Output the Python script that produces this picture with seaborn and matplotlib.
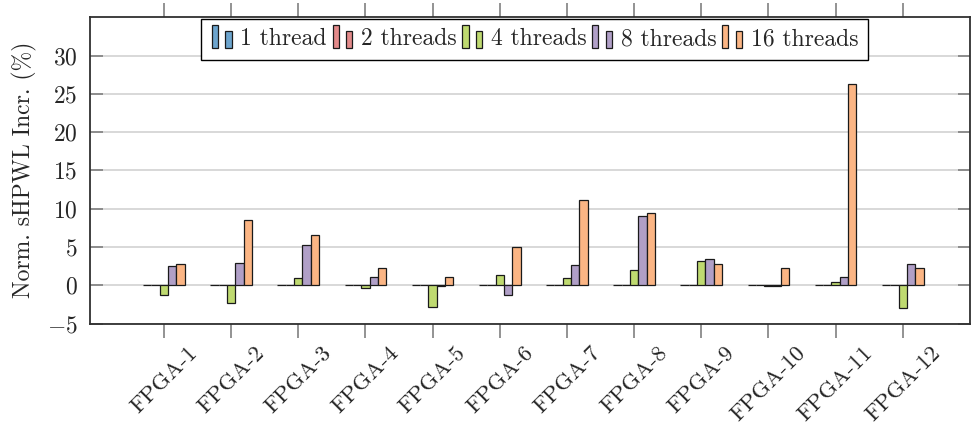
import matplotlib
matplotlib.use("Agg")
import matplotlib.pyplot as plt
import seaborn as sns
import pandas as pd
from matplotlib.legend_handler import HandlerBase
from matplotlib.patches import Rectangle

# ---- data ----
fpgas = [f"FPGA-{i}" for i in range(1, 13)]
threads = ["1 thread", "2 threads", "4 threads", "8 threads", "16 threads"]
t1 = [0, 0, 0, 0, 0, 0, 0, 0, 0, 0, 0, 0]
t2 = [0, 0, 0, 0, 0, 0, 0, 0, 0, 0, 0, 0]
t4 = [-1.3, -2.3, 0.9, -0.4, -2.8, 1.4, 1.0, 2.0, 3.2, -0.05, 0.45, -3.0]
t8 = [2.5, 2.9, 5.2, 1.05, -0.1, -1.25, 2.65, 9.1, 3.45, -0.1, 1.1, 2.8]
t16 = [2.75, 8.5, 6.5, 2.25, 1.1, 5.0, 11.1, 9.45, 2.8, 2.25, 26.3, 2.3]
colors = ["#6DA5CE", "#E38A8A", "#BFDA70", "#B09FC7", "#FBB584"]
yticks = [-5, 0, 5, 10, 15, 20, 25, 30]

rows = []
for name, vals in zip(threads, [t1, t2, t4, t8, t16]):
    for f, v in zip(fpgas, vals):
        rows.append({"fpga": f, "threads": name, "val": v})
df = pd.DataFrame(rows)

sns.set_style("ticks")
plt.rcParams["font.family"] = ["cmr10", "DejaVu Serif"]
plt.rcParams["mathtext.fontset"] = "cm"
plt.rcParams["axes.formatter.use_mathtext"] = True
plt.rcParams["axes.unicode_minus"] = True

FS = 17.0

fig = plt.figure(figsize=(9.72, 4.28), dpi=100)
ax = fig.add_axes([90 / 972, (428 - 323.5) / 428, 880 / 972, (323.5 - 16.5) / 428])

sns.barplot(data=df, x="fpga", y="val", hue="threads", order=fpgas,
            hue_order=threads, palette=dict(zip(threads, colors)),
            width=0.62, edgecolor="#1a1a1a", linewidth=0.9, errorbar=None,
            saturation=1, ax=ax, legend=False, zorder=3)

ax.set_xlim(-1.1, 12.0)
ax.set_ylim(-5, 35.1)
ax.set_yticks(yticks)
ax.yaxis.grid(True, color="#d8d8d8", linewidth=1.4, zorder=0)
ax.set_axisbelow(True)
ax.set_xlabel("")
ax.set_ylabel("Norm. sHPWL Incr. (%)", fontsize=FS, labelpad=7)

for s in ax.spines.values():
    s.set_visible(True)
    s.set_color("#303030")
    s.set_linewidth(1.3)

ax.tick_params(axis="y", direction="in", length=9, width=1.2, color="#808080",
               labelsize=FS, pad=9, right=True)
ax.tick_params(axis="x", direction="out", length=10, width=1.2, color="#808080",
               labelsize=16.5, pad=4, top=True)
plt.setp(ax.get_xticklabels(), rotation=45, ha="center", va="top")


class HandlerTwoBars(HandlerBase):
    def create_artists(self, legend, orig_handle, xdescent, ydescent,
                       width, height, fontsize, trans):
        fc = orig_handle.get_facecolor()
        bw = width * 0.24
        r1 = Rectangle((-xdescent + width * 0.04, -ydescent - 0.15 * height), bw, height * 1.4,
                       facecolor=fc, edgecolor="#1a1a1a", linewidth=0.9, transform=trans)
        r2 = Rectangle((-xdescent + width * 0.56, -ydescent - 0.15 * height), bw, height * 1.05,
                       facecolor=fc, edgecolor="#1a1a1a", linewidth=0.9, transform=trans)
        return [r1, r2]


handles = [Rectangle((0, 0), 1, 1, facecolor=c, edgecolor="black") for c in colors]
leg = ax.legend(handles, threads, loc="upper center", bbox_to_anchor=(0.505, 1.0),
                ncol=5, fontsize=FS, frameon=True, fancybox=False,
                edgecolor="black", framealpha=1, borderaxespad=0.1,
                handlelength=1.1, handletextpad=0.15, columnspacing=0.2,
                borderpad=0.4,
                handler_map={Rectangle: HandlerTwoBars()})
leg.get_frame().set_linewidth(1.0)

fig.savefig("out.png", dpi=100)
